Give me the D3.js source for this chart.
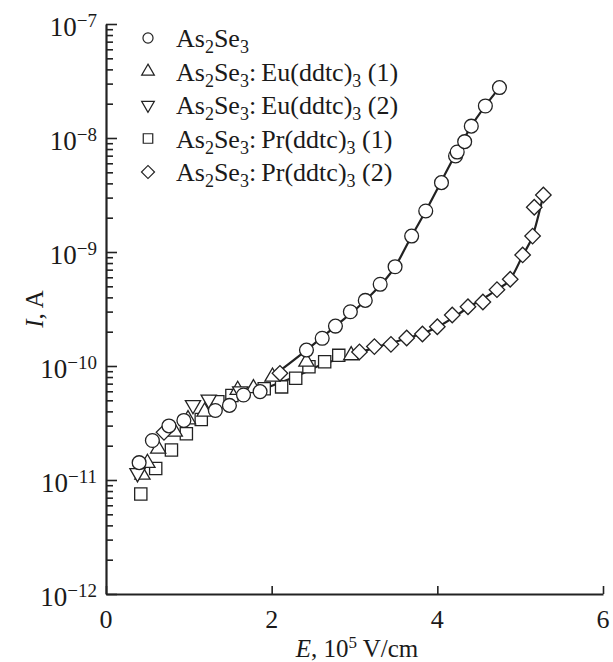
<!DOCTYPE html>
<html lang="en">
<head>
<meta charset="utf-8">
<title>I(E) As2Se3</title>
<script src="https://d3js.org/d3.v7.min.js"></script>
<style>
    body { margin: 0; background: #fff; }
    svg { display: block; }
    text { font-family: "Liberation Serif", "DejaVu Serif", serif; fill: #1a1a1a; }
</style>
</head>
<body>
<div id="chart"></div>
<script>
"use strict";

// values (E in 1e5 V/cm, I in A)
var as2se3E = [0.40, 0.56, 0.76, 0.94, 1.32, 1.49, 1.66, 1.86, 2.42, 2.61, 2.77, 2.95, 3.13, 3.31, 3.49, 3.69, 3.86, 4.05, 4.22, 4.24, 4.33, 4.41, 4.58, 4.75];
var as2se3I = [1.42e-11, 2.22e-11, 2.98e-11, 3.33e-11, 4.07e-11, 4.51e-11, 5.57e-11, 5.96e-11, 1.38e-10, 1.75e-10, 2.24e-10, 2.99e-10, 3.76e-10, 5.21e-10, 7.43e-10, 1.38e-9, 2.29e-9, 4.06e-9, 6.95e-9, 7.53e-9, 9.29e-9, 1.27e-8, 1.91e-8, 2.77e-8];

var eu1E = [0.44, 0.50, 0.63, 0.83, 0.99, 1.19, 1.59, 1.78, 2.01, 2.42, 2.96];
var eu1I = [1.11e-11, 1.41e-11, 1.88e-11, 2.65e-11, 3.40e-11, 3.97e-11, 6.15e-11, 6.37e-11, 8.05e-11, 1.09e-10, 1.24e-10];

var eu2E = [0.38, 1.05, 1.24, 1.62];
var eu2I = [1.15e-11, 4.55e-11, 5.08e-11, 6.0e-11];

var pr1E = [0.42, 0.60, 0.79, 0.97, 1.15, 1.35, 1.52, 1.91, 2.12, 2.29, 2.45, 2.64, 2.81];
var pr1I = [7.53e-12, 1.26e-11, 1.83e-11, 2.55e-11, 3.40e-11, 4.86e-11, 5.51e-11, 6.31e-11, 6.56e-11, 7.80e-11, 9.86e-11, 1.09e-10, 1.24e-10];

var pr2E = [0.70, 2.10, 3.06, 3.24, 3.44, 3.63, 3.82, 4.00, 4.18, 4.37, 4.55, 4.72, 4.88, 5.03, 5.15, 5.17, 5.28];
var pr2I = [2.62e-11, 8.63e-11, 1.33e-10, 1.48e-10, 1.55e-10, 1.76e-10, 1.91e-10, 2.21e-10, 2.80e-10, 3.31e-10, 3.64e-10, 4.67e-10, 5.77e-10, 9.42e-10, 1.38e-9, 2.47e-9, 3.16e-9];

// drawn fit curves
var fit1E = [2.10, 2.42, 2.77, 3.13, 3.49, 3.69, 3.86, 4.22, 4.41, 4.75];
var fit1I = [9.1e-11, 1.38e-10, 2.24e-10, 3.76e-10, 7.43e-10, 1.38e-9, 2.29e-9, 7.2e-9, 1.27e-8, 2.77e-8];
var fit2E = [1.90, 2.29, 2.64, 2.96, 3.24, 3.63, 4.00, 4.37, 4.72, 4.88, 5.03, 5.15, 5.28];
var fit2I = [6.3e-11, 8.1e-11, 1.05e-10, 1.23e-10, 1.45e-10, 1.74e-10, 2.19e-10, 3.24e-10, 4.68e-10, 5.75e-10, 9.3e-10, 1.38e-9, 3.16e-9];

var legendNames = ["As_2Se_3", "As_2Se_3:\u2009Eu(ddtc)_3 (1)", "As_2Se_3:\u2009Eu(ddtc)_3 (2)", "As_2Se_3:\u2009Pr(ddtc)_3 (1)", "As_2Se_3:\u2009Pr(ddtc)_3 (2)"];
var xTicks = [0, 2, 4, 6];
var yExponents = [-12, -11, -10, -9, -8, -7];

var svgW = 613, svgH = 662;
var plotLeft = 106, plotRight = 603, plotTop = 24, plotBottom = 594;

var svg = d3.select("#chart").append("svg")
    .attr("width", svgW)
    .attr("height", svgH);

var x = d3.scaleLinear().domain([0, 6]).range([plotLeft, plotRight]);
var y = d3.scaleLog().domain([1e-12, 1e-7]).range([plotBottom, plotTop]);

var majors = yExponents.map(function(e) { return Math.pow(10, e); });
var minors = [];
yExponents.slice(0, -1).forEach(function(e) {
    for (var k = 2; k <= 9; k++) minors.push(k * Math.pow(10, e));
});

// axes, ticks inward
var gy = svg.append("g").attr("transform", "translate(" + plotLeft + ",0)");
gy.call(d3.axisLeft(y).tickValues(majors).tickSize(-11).tickSizeOuter(0).tickFormat(""));
var gym = svg.append("g").attr("transform", "translate(" + plotLeft + ",0)");
gym.call(d3.axisLeft(y).tickValues(minors).tickSize(-7).tickSizeOuter(0).tickFormat(""));
gym.select(".domain").remove();
var gx = svg.append("g").attr("transform", "translate(0," + plotBottom + ")");
gx.call(d3.axisBottom(x).tickValues(xTicks).tickSize(-8).tickSizeOuter(0).tickFormat(""));

svg.selectAll(".domain").attr("stroke", "#222").attr("stroke-width", 2.2);
svg.selectAll(".tick line").attr("stroke", "#222").attr("stroke-width", 1.6);

// tick labels
xTicks.forEach(function(t) {
    svg.append("text")
        .attr("x", x(t)).attr("y", 628)
        .attr("text-anchor", "middle")
        .attr("font-size", 26)
        .text(t);
});
yExponents.forEach(function(e) {
    var t = svg.append("text")
        .attr("x", 97).attr("y", y(Math.pow(10, e)) + 12)
        .attr("text-anchor", "end")
        .attr("font-size", 27);
    t.append("tspan").text("10");
    t.append("tspan").attr("dy", -9).attr("font-size", 19).text("\u2212" + (-e));
});

// axis titles
var xl = svg.append("text")
    .attr("x", 357).attr("y", 657)
    .attr("text-anchor", "middle")
    .attr("font-size", 25);
xl.append("tspan").attr("font-style", "italic").text("E");
xl.append("tspan").text(", 10");
xl.append("tspan").attr("dy", -9).attr("font-size", 17).text("5");
xl.append("tspan").attr("dy", 9).text(" V/cm");

var yl = svg.append("text")
    .attr("transform", "translate(43," + ((plotTop + plotBottom) / 2) + ") rotate(-90)")
    .attr("text-anchor", "middle")
    .attr("font-size", 25);
yl.append("tspan").attr("font-style", "italic").text("I");
yl.append("tspan").text(", A");

// fit curves
var line = d3.line()
    .x(function(d) { return x(d[0]); })
    .y(function(d) { return y(d[1]); })
    .curve(d3.curveMonotoneX);
[[fit1E, fit1I], [fit2E, fit2I]].forEach(function(f) {
    svg.append("path")
        .datum(d3.zip(f[0], f[1]))
        .attr("d", line)
        .attr("fill", "none")
        .attr("stroke", "#222")
        .attr("stroke-width", 2.2);
});

// markers
var shapes = [
    d3.symbol().type(d3.symbolCircle).size(150),
    d3.symbol().type(d3.symbolTriangle).size(100),
    d3.symbol().type(d3.symbolTriangle).size(100),
    d3.symbol().type(d3.symbolSquare).size(150),
    d3.symbol().type(d3.symbolSquare).size(120)
];
var rotations = [0, 0, 180, 0, 45];
var series = [[as2se3E, as2se3I], [eu1E, eu1I], [eu2E, eu2I], [pr1E, pr1I], [pr2E, pr2I]];

// drawing order so circles sit on top
[3, 1, 2, 4, 0].forEach(function(i) {
    svg.append("g").selectAll("path")
        .data(d3.zip(series[i][0], series[i][1]))
        .enter().append("path")
        .attr("d", shapes[i]())
        .attr("transform", function(d) {
            return "translate(" + x(d[0]) + "," + y(d[1]) + ") rotate(" + rotations[i] + ")";
        })
        .attr("fill", "#fff")
        .attr("stroke", "#222")
        .attr("stroke-width", 1.3);
});

// legend
var legendSizes = [80, 70, 70, 90, 85];
var lg = svg.append("g");
legendNames.forEach(function(name, i) {
    var ly = 38 + i * 33.5;
    lg.append("path")
        .attr("d", d3.symbol().type(shapes[i].type()).size(legendSizes[i])())
        .attr("transform", "translate(148," + ly + ") rotate(" + rotations[i] + ")")
        .attr("fill", "#fff")
        .attr("stroke", "#222")
        .attr("stroke-width", 1.2);
    var t = lg.append("text")
        .attr("x", 176).attr("y", ly + 9)
        .attr("font-size", 26);
    var parts = name.split(/(_\d)/);
    var sub = false;
    parts.forEach(function(p) {
        if (p === "") return;
        if (p.charAt(0) === "_") {
            t.append("tspan").attr("dy", 6).attr("font-size", 18).text(p.slice(1));
            sub = true;
        } else {
            t.append("tspan").attr("dy", sub ? -6 : 0).text(p);
            sub = false;
        }
    });
});
</script>
</body>
</html>
